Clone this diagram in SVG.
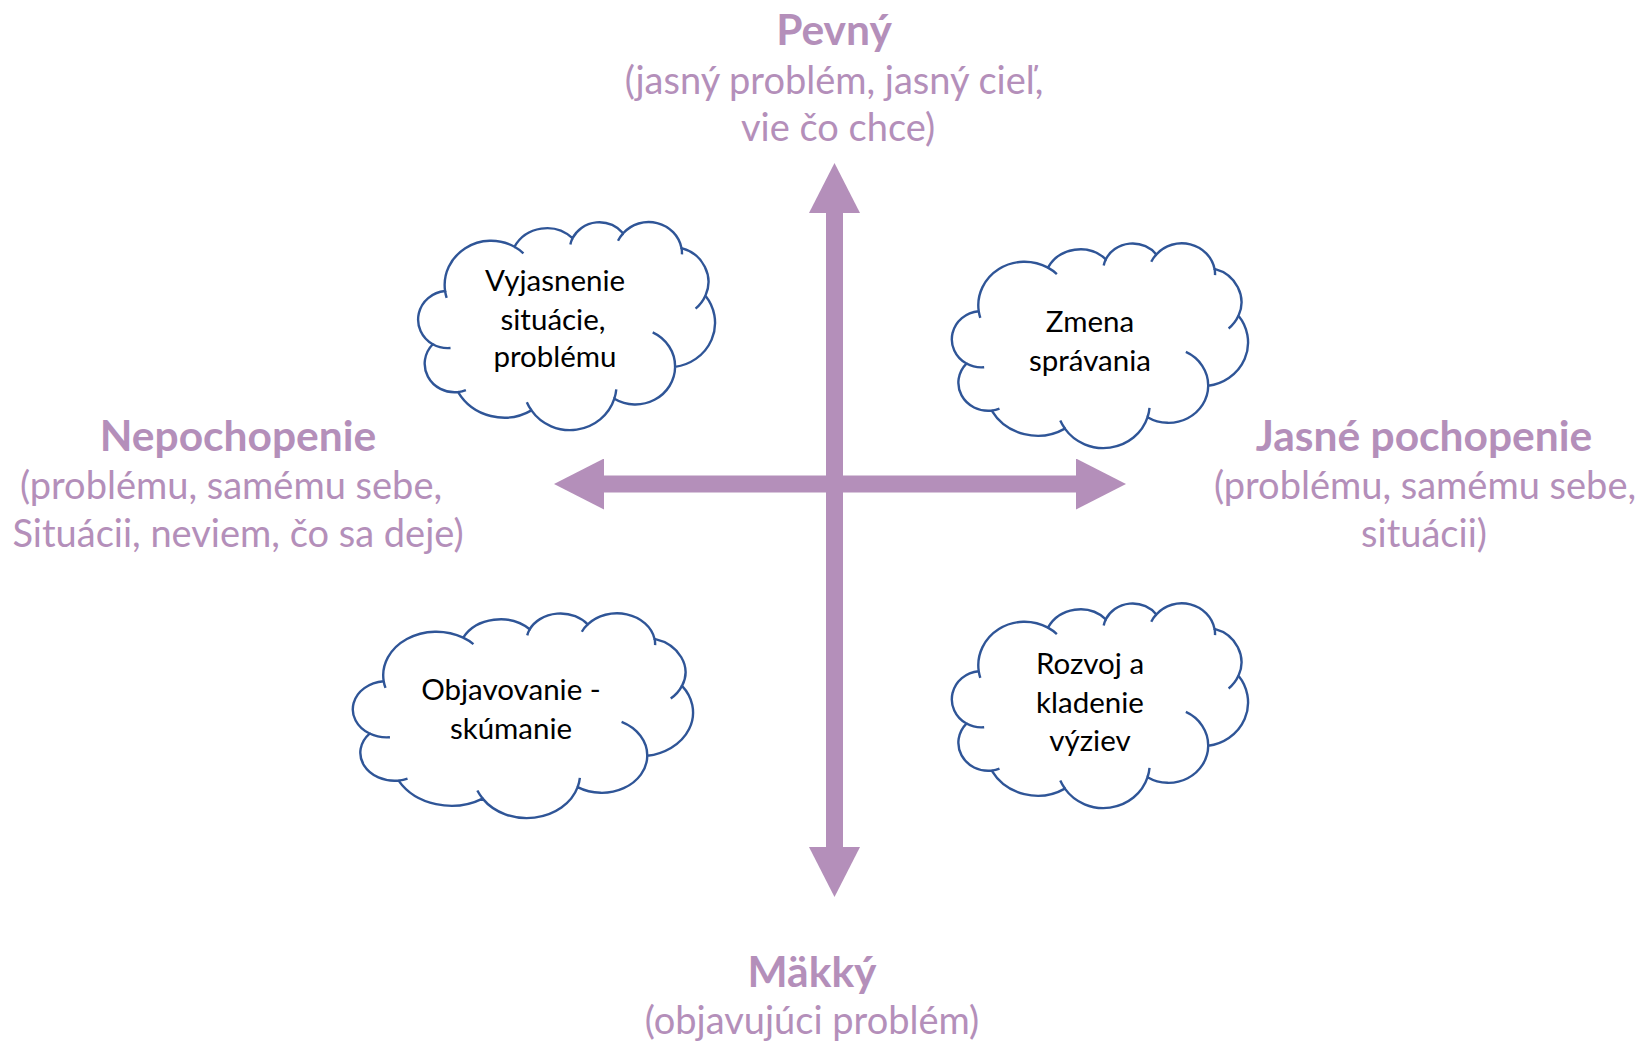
<svg xmlns="http://www.w3.org/2000/svg" xmlns:xlink="http://www.w3.org/1999/xlink" width="1641" height="1043" viewBox="0 0 1641 1043">
  <style>
    .axis { stroke: #B48FBA; stroke-width: 17; fill: none; }
    .lbl { fill: #B48FBA; font-family: Lato, Carlito, "Liberation Sans", sans-serif; font-size: 38px; text-anchor: middle; }
    .lbl-b { font-weight: bold; font-size: 42.5px; }
    .ctext { fill: #000000; font-family: Lato, Carlito, "Liberation Sans", sans-serif; font-size: 29.5px; text-anchor: middle; }
  </style>
  <defs>
    <marker id="head" viewBox="0 0 50 51" refX="0" refY="25.5" markerWidth="50" markerHeight="51" markerUnits="userSpaceOnUse" orient="auto-start-reverse">
      <path d="M0,0 L50,25.5 L0,51 Z" fill="#B48FBA"/>
    </marker>
    <path id="cloudOutline" fill="#FFFFFF" stroke="#2F5597" stroke-width="2.4" vector-effect="non-scaling-stroke"
      d="M3900,14370 A6753,9190 0 0 1 14002,5198 A5333,7267 0 0 1 22453,3427 A4365,5945 0 0 1 29825,2410 A4857,6595 0 0 1 38318,5466 A5333,7273 0 0 1 41808,15352 A6775,9220 0 0 1 37393,30094 A5785,7867 0 0 1 28544,36704 A6752,9215 0 0 1 16474,39120 A7720,10543 0 0 1 5797,35325 A4360,5918 0 0 1 2107,25404 A4345,5945 0 0 1 3900,14370 Z"/>
    <path id="cloudCurls" fill="none" stroke="#2F5597" stroke-width="2.4" vector-effect="non-scaling-stroke"
      d="M4693,26177 A4345,5945 0 0 1 2107,25404 M6928,34899 A4360,5918 0 0 1 5797,35325 M16478,39090 A6752,9215 0 0 1 15801,37416 M28827,34751 A6752,9215 0 0 1 28544,36704 M34129,22954 A5785,7867 0 0 1 37393,30094 M41798,15354 A5333,7273 0 0 1 40371,18025 M38324,5426 A4857,6595 0 0 1 38388,6769 M29078,3952 A4857,6595 0 0 1 29825,2410 M22141,4720 A4365,5945 0 0 1 22453,3427 M14000,5192 A6753,9190 0 0 1 15304,6548 M4127,15789 A6753,9190 0 0 1 3900,14370"/>
  </defs>

  <rect x="0" y="0" width="1641" height="1043" fill="#FFFFFF"/>

  <g id="connectors">
    <line id="axis-vertical" class="axis" x1="834.5" y1="213" x2="834.5" y2="847" marker-start="url(#head)" marker-end="url(#head)"/>
    <line id="axis-horizontal" class="axis" x1="604" y1="484" x2="1076" y2="484" marker-start="url(#head)" marker-end="url(#head)"/>
  </g>

  <g id="label-top">
    <text class="lbl lbl-b" x="834" y="45">Pevný</text>
    <text class="lbl" x="834" y="94">(jasný problém, jasný cieľ,</text>
    <text class="lbl" x="838" y="141">vie čo chce)</text>
  </g>
  <g id="label-left">
    <text class="lbl lbl-b" x="238" y="451">Nepochopenie</text>
    <text class="lbl" x="231" y="499">(problému, samému sebe,</text>
    <text class="lbl" x="238" y="547">Situácii, neviem, čo sa deje)</text>
  </g>
  <g id="label-right">
    <text class="lbl lbl-b" x="1424" y="451">Jasné pochopenie</text>
    <text class="lbl" x="1425" y="499">(problému, samému sebe,</text>
    <text class="lbl" x="1424" y="547">situácii)</text>
  </g>
  <g id="label-bottom">
    <text class="lbl lbl-b" x="812" y="987">Mäkký</text>
    <text class="lbl" x="812" y="1034">(objavujúci problém)</text>
  </g>

  <g id="cloud-vyjasnenie">
    <g transform="translate(418.3,221.7) scale(0.006868,0.004823)">
      <use xlink:href="#cloudOutline" href="#cloudOutline"/>
      <use xlink:href="#cloudCurls" href="#cloudCurls"/>
    </g>
    <text class="ctext" x="555" y="291">Vyjasnenie</text>
    <text class="ctext" x="553" y="330">situácie,</text>
    <text class="ctext" x="555" y="367">problému</text>
  </g>
  <g id="cloud-zmena">
    <g transform="translate(952,243) scale(0.006852,0.004745)">
      <use xlink:href="#cloudOutline" href="#cloudOutline"/>
      <use xlink:href="#cloudCurls" href="#cloudCurls"/>
    </g>
    <text class="ctext" x="1090" y="332">Zmena</text>
    <text class="ctext" x="1090" y="371">správania</text>
  </g>
  <g id="cloud-objavovanie">
    <g transform="translate(353,613) scale(0.00787,0.004745)">
      <use xlink:href="#cloudOutline" href="#cloudOutline"/>
      <use xlink:href="#cloudCurls" href="#cloudCurls"/>
    </g>
    <text class="ctext" x="511" y="700">Objavovanie -</text>
    <text class="ctext" x="511" y="739">skúmanie</text>
  </g>
  <g id="cloud-rozvoj">
    <g transform="translate(952,603) scale(0.006852,0.004745)">
      <use xlink:href="#cloudOutline" href="#cloudOutline"/>
      <use xlink:href="#cloudCurls" href="#cloudCurls"/>
    </g>
    <text class="ctext" x="1090" y="674">Rozvoj a</text>
    <text class="ctext" x="1090" y="713">kladenie</text>
    <text class="ctext" x="1090" y="751">výziev</text>
  </g>
</svg>
